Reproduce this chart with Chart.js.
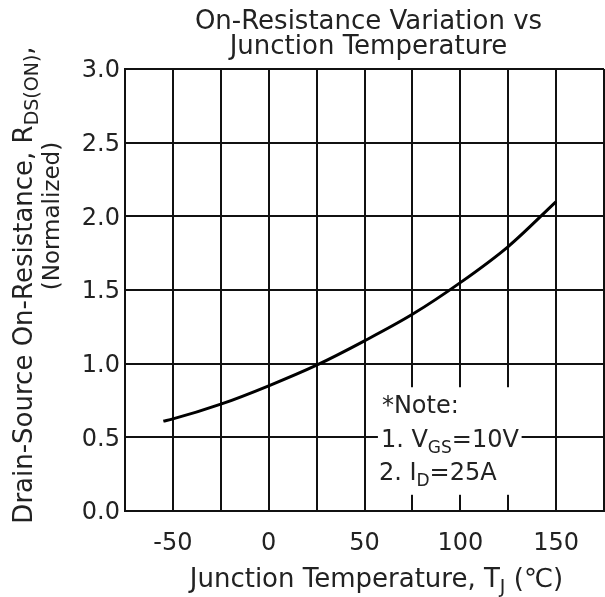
<!DOCTYPE html>
<html>
<head>
<meta charset="utf-8">
<script src="https://cdn.jsdelivr.net/npm/chart.js@4/dist/chart.umd.min.js"></script>
<style>
    html, body { margin: 0; padding: 0; background: #fff; }
    #wrap { width: 605px; height: 597px; }
</style>
</head>
<body>
<div id="wrap"><canvas id="chart" width="605" height="597"></canvas></div>
<script>
// data
const tempC = [-55, -50, -25, 0, 25, 50, 75, 100, 125, 150];
const rdsNorm = [0.61, 0.625, 0.725, 0.85, 0.99, 1.155, 1.335, 1.55, 1.795, 2.10];

const xTickLabels = [-50, 0, 50, 100, 150];
const xRange = [-75, 175];
const yRange = [0, 3];

// where the note sits, in data units
const noteBox = { xMin: 57, xMax: 132, yMin: 0.11, yMax: 0.84 };

const FONT = '"DejaVu Sans", sans-serif';
const INK = '#222';

// draws text pieces left to right, some as subscripts
function drawRich(ctx, parts, x, y, size, align) {
    const widths = parts.map(p => {
        ctx.font = (p.sub ? Math.round(size * 0.72) : size) + 'px ' + FONT;
        return ctx.measureText(p.t).width;
    });
    const total = widths.reduce((a, b) => a + b, 0);
    let cx = align === 'center' ? x - total / 2 : x;
    ctx.textAlign = 'left';
    ctx.textBaseline = 'alphabetic';
    parts.forEach((p, i) => {
        ctx.font = (p.sub ? Math.round(size * 0.72) : size) + 'px ' + FONT;
        ctx.fillText(p.t, cx, p.sub ? y + size * 0.22 : y);
        cx += widths[i];
    });
}

const textPlugin = {
    id: 'textPlugin',
    beforeDatasetsDraw(chart) {
        // white note background covers the grid
        const { ctx, scales: { x, y } } = chart;
        const l = x.getPixelForValue(noteBox.xMin);
        const r = x.getPixelForValue(noteBox.xMax);
        const t = y.getPixelForValue(noteBox.yMax);
        const b = y.getPixelForValue(noteBox.yMin);
        ctx.save();
        ctx.fillStyle = '#fff';
        ctx.fillRect(l, t, r - l, b - t);
        ctx.fillStyle = INK;
        drawRich(ctx, [{ t: '*Note:' }], l + 4, t + 26, 24, 'left');
        drawRich(ctx, [{ t: '1. V' }, { t: 'GS', sub: true }, { t: '=10V' }], l + 3, t + 60, 24, 'left');
        drawRich(ctx, [{ t: '2. I' }, { t: 'D', sub: true }, { t: '=25A' }], l + 1, t + 93, 24, 'left');
        ctx.restore();
    },
    afterDraw(chart) {
        const { ctx, chartArea } = chart;
        const mid = (chartArea.left + chartArea.right) / 2;
        ctx.save();
        ctx.fillStyle = INK;

        // title
        drawRich(ctx, [{ t: 'On-Resistance Variation vs' }], mid + 4, 29, 26, 'center');
        drawRich(ctx, [{ t: 'Junction Temperature' }], mid + 4, 54, 26, 'center');

        // x axis title
        drawRich(ctx, [{ t: 'Junction Temperature, T' }, { t: 'J', sub: true }, { t: ' (\u2103)' }],
            mid + 12, 587, 26, 'center');

        // y axis title, rotated
        ctx.save();
        ctx.translate(32, 285);
        ctx.rotate(-Math.PI / 2);
        drawRich(ctx, [{ t: 'Drain-Source On-Resistance, R' }, { t: 'DS(ON)', sub: true }, { t: ',' }], 0, 0, 26, 'center');
        ctx.restore();
        ctx.save();
        ctx.translate(59, 216);
        ctx.rotate(-Math.PI / 2);
        drawRich(ctx, [{ t: '(Normalized)' }], 0, 0, 23, 'center');
        ctx.restore();

        ctx.restore();
    }
};

const ctx = document.getElementById('chart');

new Chart(ctx.getContext('2d'), {
    type: 'scatter',
    data: {
        datasets: [{
            data: tempC.map((t, i) => ({ x: t, y: rdsNorm[i] })),
            showLine: true,
            borderColor: '#000',
            borderWidth: 3,
            pointRadius: 0,
            cubicInterpolationMode: 'monotone',
            fill: false
        }]
    },
    options: {
        responsive: false,
        animation: false,
        layout: { padding: { top: 69, right: 1, left: 0, bottom: 0 } },
        plugins: {
            legend: { display: false },
            title: { display: false },
            tooltip: { enabled: false }
        },
        scales: {
            x: {
                type: 'linear',
                min: xRange[0],
                max: xRange[1],
                afterFit(scale) {
                    scale.height = 86;
                    scale.paddingLeft = 0;
                    scale.paddingRight = 0;
                },
                grid: { color: '#111', lineWidth: 2, drawTicks: false },
                border: { color: '#111', width: 2 },
                ticks: {
                    stepSize: 25,
                    padding: 18,
                    maxRotation: 0,
                    autoSkip: false,
                    color: INK,
                    font: { family: FONT, size: 24 },
                    callback: v => xTickLabels.includes(v) ? String(v) : ''
                }
            },
            y: {
                type: 'linear',
                min: yRange[0],
                max: yRange[1],
                afterFit(scale) { scale.width = 125; },
                grid: { color: '#111', lineWidth: 2, drawTicks: false },
                border: { color: '#111', width: 2 },
                ticks: {
                    stepSize: 0.5,
                    padding: 5,
                    labelOffset: 2,
                    color: INK,
                    font: { family: FONT, size: 24 },
                    callback: v => v.toFixed(1)
                }
            }
        }
    },
    plugins: [textPlugin]
});
</script>
</body>
</html>
